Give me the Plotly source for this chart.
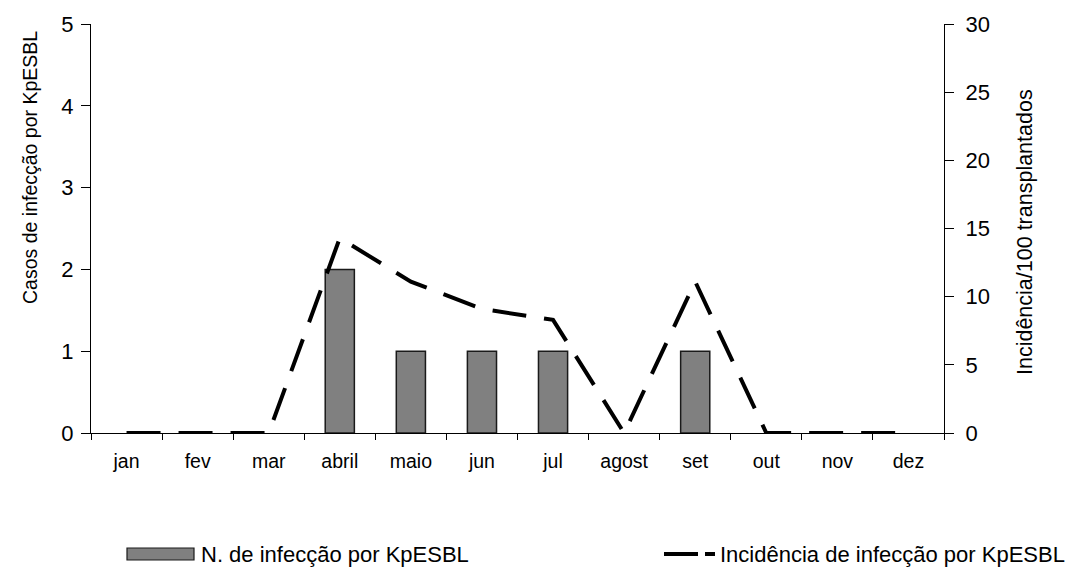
import plotly.graph_objects as go

# Monthly KpESBL infections and incidence per 100 transplant patients
meses = ["jan", "fev", "mar", "abril", "maio", "jun", "jul", "agost", "set", "out", "nov", "dez"]
casos = [0, 0, 0, 2, 1, 1, 1, 0, 1, 0, 0, 0]
incidencia = [0, 0, 0, 14.3, 11.1, 9.1, 8.3, 0, 11.1, 0, 0, 0]

FONT = "Liberation Sans, Arial, sans-serif"

fig = go.Figure()

fig.add_trace(go.Bar(
    x=meses, y=casos, xaxis="x", yaxis="y",
    name="N. de infecção por KpESBL",
    marker=dict(color="#808080",
                line=dict(color="#1a1a1a", width=[1.5 if v else 0 for v in casos])),
    width=0.41, showlegend=False,
))

fig.add_trace(go.Scatter(
    x=meses, y=incidencia, xaxis="x", yaxis="y2",
    name="Incidência de infecção por KpESBL",
    mode="lines", line=dict(color="black", width=4, dash="34px,18px"),
    showlegend=False,
))

tick_font = dict(family=FONT, size=22, color="black")

fig.update_layout(
    width=1074, height=569,
    margin=dict(l=91, r=130, t=24, b=136),
    paper_bgcolor="white", plot_bgcolor="white",
    font=dict(family=FONT, color="black"),
    xaxis=dict(
        type="category", categoryorder="array", categoryarray=meses,
        range=[-0.5, 11.5], tickson="boundaries", ticks="outside", ticklen=6,
        tickcolor="black", showline=True, linecolor="black", linewidth=1,
        showgrid=False, zeroline=False,
        tickfont=dict(family=FONT, size=19.5, color="black"), ticklabelstandoff=11,
    ),
    xaxis2=dict(
        overlaying="x", range=[-0.5, 11.5], tickmode="array",
        tickvals=[i + 0.5 for i in range(11)], ticks="inside", ticklen=6,
        tickcolor="black", showticklabels=False, showgrid=False,
        zeroline=False, showline=False, anchor="y",
    ),
    yaxis=dict(
        range=[0, 5], dtick=1, ticks="outside", ticklen=9, tickcolor="black",
        showline=True, linecolor="black", linewidth=1, showgrid=False,
        zeroline=False, tickfont=tick_font, ticklabelstandoff=3,
    ),
    yaxis3=dict(
        overlaying="y", range=[0, 5], dtick=1, ticks="inside", ticklen=9,
        tickcolor="black", showticklabels=False, showgrid=False,
        zeroline=False, showline=False, side="left", anchor="x",
    ),
    yaxis2=dict(
        overlaying="y", side="right", range=[0, 30], dtick=5,
        ticks="outside", ticklen=9, tickcolor="black", showline=True,
        linecolor="black", linewidth=1, showgrid=False, zeroline=False,
        tickfont=tick_font, ticklabelstandoff=7, anchor="x",
    ),
    yaxis4=dict(
        overlaying="y", side="right", range=[0, 30], dtick=5,
        ticks="inside", ticklen=9, tickcolor="black", showticklabels=False,
        showgrid=False, zeroline=False, showline=False, anchor="x",
    ),
)

# Axis titles
fig.add_annotation(
    text="Casos de infecção por KpESBL", textangle=-90,
    xref="paper", yref="paper", x=(30 - 91) / 853, y=(433 - 168) / 409,
    xanchor="center", yanchor="middle",
    showarrow=False, font=dict(family=FONT, size=19.5, color="black"),
)
fig.add_annotation(
    text="Incidência/100 transplantados", textangle=-90,
    xref="paper", yref="paper", x=(1025 - 91) / 853, y=(433 - 232) / 409,
    xanchor="center", yanchor="middle",
    showarrow=False, font=dict(family=FONT, size=21.5, color="black"),
)

# Legend drawn below the plot
leg_y = (433 - 554) / 409
px = 1 / 853
fig.add_shape(type="rect", xref="paper", yref="paper",
              x0=(127 - 91) * px, x1=(194 - 91) * px,
              y0=(433 - 560) / 409, y1=(433 - 548) / 409,
              fillcolor="#808080", line=dict(color="#1a1a1a", width=1.2))
fig.add_annotation(text="N. de infecção por KpESBL", xref="paper", yref="paper",
                   x=(199 - 91) * px, y=leg_y, xanchor="left", yanchor="middle",
                   showarrow=False, font=dict(family=FONT, size=22, color="black"))
fig.add_shape(type="line", xref="paper", yref="paper",
              x0=(664 - 91) * px, x1=(698 - 91) * px, y0=leg_y, y1=leg_y,
              line=dict(color="black", width=4))
fig.add_shape(type="line", xref="paper", yref="paper",
              x0=(705 - 91) * px, x1=(715 - 91) * px, y0=leg_y, y1=leg_y,
              line=dict(color="black", width=4))
fig.add_annotation(text="Incidência de infecção por KpESBL", xref="paper", yref="paper",
                   x=(1067 - 91) * px, y=leg_y, xanchor="right", yanchor="middle",
                   showarrow=False, font=dict(family=FONT, size=22, color="black"))

fig.write_html("out.html")
